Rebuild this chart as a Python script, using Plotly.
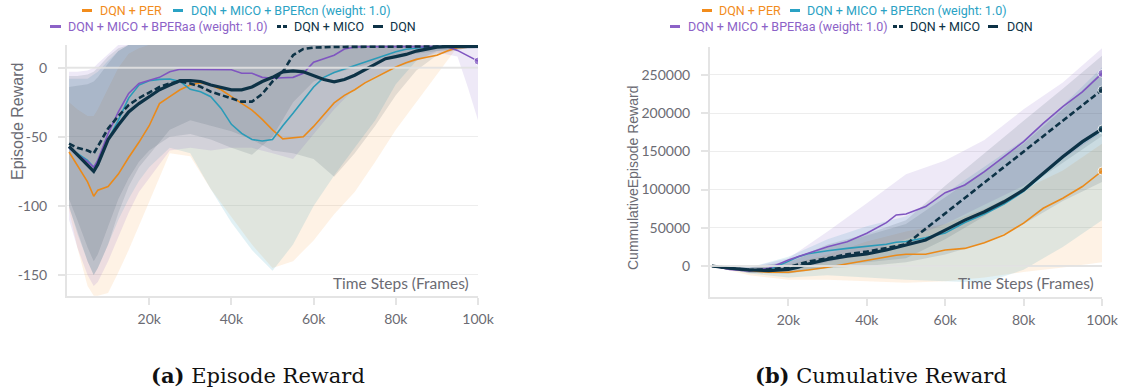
import plotly.graph_objects as go

# ---------------- series names / colours ----------------
names = ["DQN + PER", "DQN + MICO + BPERcn (weight: 1.0)",
         "DQN + MICO + BPERaa (weight: 1.0)", "DQN + MICO", "DQN"]
line_colors = ["#ea8a1a", "#2a9bb8", "#7f55c0", "#0d3246", "#0d3246"]
text_colors = ["#f28c1c", "#2aa2c4", "#8c62c7", "#0d3246", "#0d3246"]
band_colors = ["rgba(250,150,40,0.12)", "rgba(42,155,184,0.14)",
               "rgba(127,85,192,0.13)", "rgba(22,46,62,0.11)", "rgba(22,46,62,0.11)"]

# ---------------- (a) episode reward ----------------
steps_ep = [500, 2500, 5000, 6500, 7500, 10000, 12500, 15000, 17500, 20000,
            22500, 25000, 27500, 30000, 32500, 35000, 37500, 40000, 42500, 45000,
            47500, 50000, 52500, 55000, 57500, 60000, 62500, 65000, 67500, 70000,
            72500, 75000, 77500, 80000, 82500, 85000, 87500, 90000, 92500, 95000,
            97500, 100000]
ep_per = [-61, -70.5, -82.6, -93, -88.6, -86, -77, -65, -54, -42, -26, -21, -16, -12.6,
          -10.9, -12.6, -16, -21, -25.8, -30.7, -37.4, -45, -51.5, -51, -50, -42.5, -34,
          -25.5, -20, -16, -11, -7, -3.5, 0.5, 3.5, 6, 7.5, 9, 12, 14.5, 14.8, 14.8]
ep_bpercn = [-58, -62, -67, -72, -69, -52, -38, -22, -12.6, -9.4, -8.5, -8.2, -10, -15.7,
             -17.4, -21, -29.5, -41, -47.6, -52, -53, -52, -42, -33, -23.5, -14, -7, -3.5,
             -1, 1.5, 4.5, 7, 9.5, 11.5, 13.3, 14.2, 15, 15.3, 15.3, 15.3, 15.3, 15.3]
ep_bperaa = [-58, -63, -68, -72, -67, -47.6, -32, -18.6, -11.4, -9.4, -7, -2.9, -1.2, -1.2,
             -1.2, -1.2, -1, -1.5, -4, -4, -7, -7.7, -7.3, -7, -4, 4, 6.5, 9, 13.5, 15,
             15.1, 15.2, 15.2, 15.2, 15.2, 15.2, 15.2, 15.2, 15.2, 12.5, 8.9, 4.8]
ep_mico = [-55, -58, -60, -62, -57, -44, -35, -27, -22, -18, -14, -11.4, -10, -11.4,
           -13.8, -17.4, -19.8, -22, -24.6, -24.6, -19, -10, -3, 9, 13.5, 14.5, 15, 15,
           15, 15, 15, 15, 15, 15, 15, 15, 15.2, 15.3, 15.4, 15.5, 15.5, 15.5]
ep_dqn = [-57, -63, -70, -75, -70, -52, -41.5, -32, -26, -21, -16, -12.6, -9.4, -9.4,
          -10, -12.6, -14.5, -16, -16, -14, -10, -7, -3, -2.4, -3, -6, -8.6, -10.3,
          -8.6, -5.5, -1.4, 2.9, 6.5, 8, 9.6, 12, 13.7, 14.9, 15.2, 15.3, 15.4, 15.4]

# min / max envelopes across runs
steps_ep_band = [500, 2500, 5000, 6500, 7500, 10000, 12500, 15000, 17500, 20000,
                 25000, 30000, 35000, 40000, 45000, 50000, 55000, 60000, 65000, 70000,
                 75000, 80000, 85000, 90000, 95000, 97500, 100000]
ep_per_lo = [-103, -130, -158, -165, -165, -163, -148, -132, -115, -97, -62, -64, -88,
             -108, -128, -145, -140, -125, -106, -90, -68, -45, -25, -5, 15, 15, 15]
ep_per_hi = [-25, -30, -35, -35, -30, -15, 0, 10, 14] + [16.5] * 18
ep_bpercn_lo = [-100, -120, -140, -150, -145, -128, -110, -95, -82, -72, -58, -62, -88,
                -112, -132, -147, -128, -100, -78, -58, -38, -12, 5, 12, 14, 14, 14]
ep_bpercn_hi = [-8, -8, -8, -5, -3, 5, 12] + [16.5] * 20
ep_bperaa_lo = [-110, -130, -150, -158, -155, -140, -122, -105, -90, -80, -60, -58, -60,
                -58, -58, -62, -66, -48, -30, -15, -6, 0, 5, 11, 8, -14, -38]
ep_bperaa_hi = [-3, -3, -2, 0, 3, 10] + [16.5] * 21
ep_mico_lo = [-95, -110, -130, -140, -135, -115, -95, -80, -68, -60, -50, -48, -52, -58,
              -63, -50, -25, -10, -4, 0, 4, 8, 10, 12, 13, 14, 14]
ep_mico_hi = [-6, -6, -5, -3, 0, 8, 14] + [16.5] * 20
ep_dqn_lo = [-101, -118, -140, -150, -145, -128, -105, -86, -72, -63, -45, -38, -42, -46,
             -52, -60, -62, -66, -79, -62, -42, -20, -2, 9, 13, 14, 14]
ep_dqn_hi = [-14, -13, -12, -10, -7, 3, 12] + [16.5] * 20

# ---------------- (b) cumulative reward ----------------
steps_cum = [500, 5000, 10000, 15000, 20000, 22500, 25000, 30000, 35000, 40000, 45000,
             47500, 50000, 55000, 60000, 65000, 70000, 75000, 80000, 85000, 90000,
             95000, 100000]
cum_per = [0, -3500, -6000, -8300, -8300, -7000, -5200, -1700, 2600, 7900, 12200, 14000,
           15300, 15300, 21000, 23000, 30500, 40600, 56000, 75500, 88600, 104000, 124300]
cum_bpercn = [0, -3000, -5200, -5000, 6000, 12000, 16000, 20000, 23000, 25300, 28400,
              31000, 32000, 37000, 43000, 57000, 68000, 81000, 97500, 120000, 142000,
              161500, 178000]
cum_bperaa = [0, -4400, -6500, -3000, 7900, 12000, 16600, 25300, 31800, 42800, 56700,
              66800, 68000, 77700, 96000, 106000, 123500, 143000, 162700, 186700, 208500,
              228000, 252000]
cum_mico = [0, -3000, -5200, -4400, -1700, 2000, 5700, 10000, 15300, 18800, 23000, 26000,
            28400, 48600, 69000, 89500, 110000, 130000, 149600, 170000, 190000, 210000,
            230500]
cum_dqn = [0, -3000, -5200, -6000, -4400, -1500, 2600, 8700, 13000, 15700, 21000, 24000,
           27500, 34000, 47000, 60000, 71000, 84000, 99500, 121000, 143000, 162700, 179300]

steps_cum_band = [500, 10000, 20000, 30000, 40000, 50000, 60000, 70000, 80000, 90000, 100000]
cum_per_lo = [0, -12000, -18000, -18000, -20000, -22000, -20000, -15000, -8000, -2000, 5000]
cum_per_hi = [0, -3000, 2000, 15000, 32000, 45000, 55000, 75000, 100000, 125000, 160000]
cum_bpercn_lo = [0, -10000, -15000, -12000, -15000, -18000, -20000, -22000, -5000, 25000, 60000]
cum_bpercn_hi = [0, -2000, 12000, 35000, 52000, 65000, 95000, 130000, 165000, 210000, 260000]
cum_bperaa_lo = [0, -9000, -6000, 5000, 18000, 35000, 55000, 80000, 105000, 140000, 175000]
cum_bperaa_hi = [0, -2000, 10000, 45000, 82000, 120000, 138000, 165000, 205000, 240000, 285000]
cum_mico_lo = [0, -9000, -10000, 0, 5000, 10000, 35000, 65000, 100000, 135000, 170000]
cum_mico_hi = [0, -2000, 6000, 28000, 42000, 60000, 105000, 148000, 190000, 232000, 275000]
cum_dqn_lo = [0, -9000, -10000, -3000, 0, 5000, 15000, 30000, 55000, 85000, 110000]
cum_dqn_hi = [0, -2000, 5000, 25000, 40000, 55000, 90000, 125000, 160000, 205000, 255000]

# ---------------- axis ticks ----------------
x_tickvals = [20000, 40000, 60000, 80000, 100000]
x_ticktext = ["20k", "40k", "60k", "80k", "100k"]
ep_tickvals = [-150, -100, -50, 0]
ep_ticktext = ["-150", "-100", "-50", "0"]
cum_tickvals = [0, 50000, 100000, 150000, 200000, 250000]
cum_ticktext = ["0", "50000", "100000", "150000", "200000", "250000"]

W, H = 1125, 392
FONT = "Lato"
LEGEND_FONT = "Roboto"
GRAY = "#6b6b73"

fig = go.Figure()

panels = [
    dict(xa="x", ya="y", steps=steps_ep, band_steps=steps_ep_band,
         means=[ep_per, ep_bpercn, ep_bperaa, ep_mico, ep_dqn],
         los=[ep_per_lo, ep_bpercn_lo, ep_bperaa_lo, ep_mico_lo, ep_dqn_lo],
         his=[ep_per_hi, ep_bpercn_hi, ep_bperaa_hi, ep_mico_hi, ep_dqn_hi],
         end_dots=[False, False, True, False, False]),
    dict(xa="x2", ya="y2", steps=steps_cum, band_steps=steps_cum_band,
         means=[cum_per, cum_bpercn, cum_bperaa, cum_mico, cum_dqn],
         los=[cum_per_lo, cum_bpercn_lo, cum_bperaa_lo, cum_mico_lo, cum_dqn_lo],
         his=[cum_per_hi, cum_bpercn_hi, cum_bperaa_hi, cum_mico_hi, cum_dqn_hi],
         end_dots=[True, True, True, True, True]),
]

widths = [1.6, 1.6, 1.6, 2.6, 3.2]
dashes = ["solid", "solid", "solid", "6px,3px", "solid"]

for p in panels:
    # shaded min/max envelopes
    for i in range(5):
        bx = p["band_steps"] + p["band_steps"][::-1]
        by = p["his"][i] + p["los"][i][::-1]
        fig.add_trace(go.Scatter(x=bx, y=by, fill="toself", fillcolor=band_colors[i],
                                 line=dict(width=0), mode="lines", hoverinfo="skip",
                                 showlegend=False, xaxis=p["xa"], yaxis=p["ya"]))
    # mean curves
    for i in range(5):
        n = len(p["means"][i])
        sizes = [0] * (n - 1) + [8 if p["end_dots"][i] else 0]
        fig.add_trace(go.Scatter(x=p["steps"], y=p["means"][i], name=names[i],
                                 mode="lines+markers",
                                 line=dict(color=line_colors[i], width=widths[i], dash=dashes[i]),
                                 marker=dict(size=sizes, color=line_colors[i]),
                                 showlegend=False, xaxis=p["xa"], yaxis=p["ya"]))

axis_common = dict(showline=True, linecolor="#e4e4e4", linewidth=2, ticks="outside",
                   ticklen=7, tickwidth=2, tickcolor="#e4e4e4", automargin=False,
                   tickfont=dict(family=FONT, size=14, color=GRAY), zeroline=False)

fig.update_layout(
    width=W, height=H,
    margin=dict(l=0, r=0, t=0, b=0, pad=0, autoexpand=False),
    paper_bgcolor="white", plot_bgcolor="white", showlegend=False,
    xaxis=dict(domain=[67 / W, 478 / W], range=[0, 100000], tickvals=x_tickvals,
               ticktext=x_ticktext, showgrid=False, anchor="y", ticklabelstandoff=2,
               **axis_common),
    yaxis=dict(domain=[96 / H, 347 / H], range=[-165.2, 16.4], tickvals=ep_tickvals,
               ticktext=ep_ticktext, showgrid=True, gridcolor="#ededed", gridwidth=1,
               anchor="x", ticklabelstandoff=8, **axis_common),
    xaxis2=dict(domain=[710 / W, 1102 / W], range=[0, 100000], tickvals=x_tickvals,
                ticktext=x_ticktext, showgrid=False, anchor="y2", ticklabelstandoff=2,
                **axis_common),
    yaxis2=dict(domain=[95 / H, 345 / H], range=[-40600, 286600], tickvals=cum_tickvals,
                ticktext=cum_ticktext, showgrid=True, gridcolor="#ededed", gridwidth=1,
                anchor="x2", ticklabelstandoff=8, **axis_common),
)

# zero reference lines drawn over the shaded envelopes
for xa, ya in [("x", "y"), ("x2", "y2")]:
    fig.add_shape(type="line", xref=f"{xa} domain", yref=ya, x0=0, x1=1, y0=0, y1=0,
                  line=dict(color="rgba(226,226,226,0.9)", width=2), layer="above")

annotations = []
# y-axis titles
for text, xpx, ypx, size in [("Episode Reward", 17, 122, 16),
                             ("CummulativeEpisode Reward", 633, 178, 14)]:
    annotations.append(dict(text=text, x=xpx / W, y=1 - ypx / H, xref="paper",
                            yref="paper", xanchor="center", yanchor="middle",
                            textangle=-90, showarrow=False,
                            font=dict(family="Liberation Sans", size=size, color=GRAY)))

# x-axis captions inside the plots
for xpx in (471, 1096):
    annotations.append(dict(text="Time Steps (Frames)", x=xpx / W, y=1 - 283 / H,
                            xref="paper", yref="paper", xanchor="right", yanchor="middle",
                            showarrow=False, font=dict(family=FONT, size=15.5, color=GRAY)))

# legends: (series index, symbol start px, symbol end px, text start px, row y px)
legend_left = [(0, 82, 92, 99, 10.5), (1, 173, 183, 190, 10.5),
               (2, 50, 61, 67, 26.5), (3, 277, 288, 293, 26.5), (4, 373, 383, 389, 26.5)]
legend_right = [(0, 702, 712, 718, 10.5), (1, 790, 800, 806, 10.5),
                (2, 670, 680, 687, 26.5), (3, 893, 904, 909, 26.5), (4, 988, 998, 1006, 26.5)]
shapes = []
for entries in (legend_left, legend_right):
    for i, s0, s1, t0, ry in entries:
        shapes.append(dict(type="line", xref="paper", yref="paper", x0=s0 / W, x1=s1 / W,
                           y0=1 - ry / H, y1=1 - ry / H,
                           line=dict(color=text_colors[i], width=3,
                                     dash="4px,2px" if i == 3 else "solid")))
        annotations.append(dict(text=names[i], x=t0 / W, y=1 - ry / H, xref="paper",
                                yref="paper", xanchor="left", yanchor="middle",
                                showarrow=False, borderpad=0,
                                font=dict(family=LEGEND_FONT, size=12.5,
                                          color=text_colors[i])))

# panel captions
for label, title, cx in [("(a)", "Episode Reward", 258), ("(b)", "Cumulative Reward", 881)]:
    annotations.append(dict(text=f"<b>{label}</b> {title}", x=cx / W, y=1 - 375 / H,
                            xref="paper", yref="paper", xanchor="center", yanchor="middle",
                            showarrow=False,
                            font=dict(family="DejaVu Serif", size=21, color="#111111")))

for s in shapes:
    fig.add_shape(**s)
fig.update_layout(annotations=annotations)

fig.write_html("out.html")
